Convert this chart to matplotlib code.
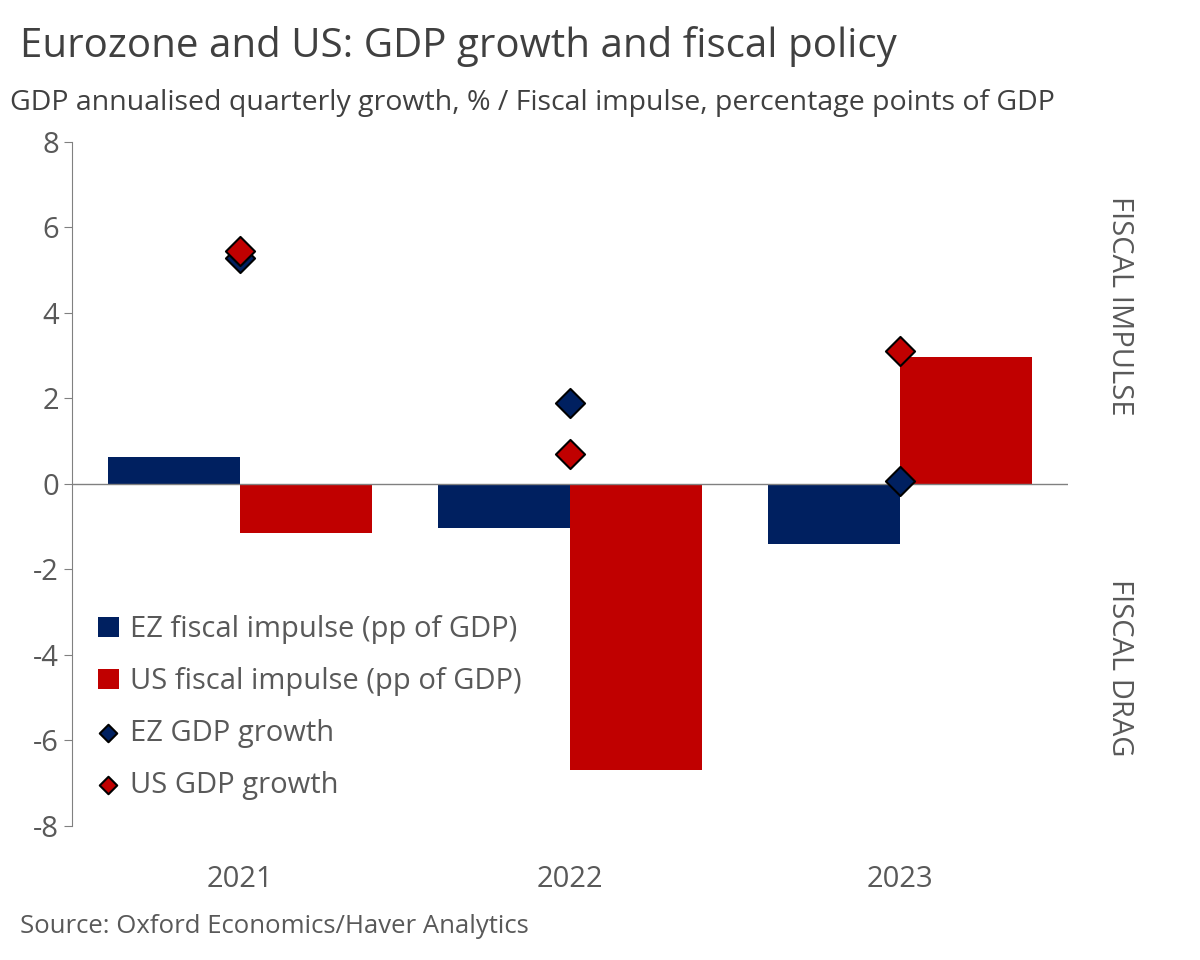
import numpy as np
import matplotlib.pyplot as plt

plt.rcParams['font.family'] = ['Open Sans', 'DejaVu Sans']
plt.rcParams['axes.unicode_minus'] = False

years = ['2021', '2022', '2023']
ez_impulse = [0.63, -1.03, -1.40]
us_impulse = [-1.15, -6.69, 2.97]
ez_gdp = [5.29, 1.89, 0.07]
us_gdp = [5.45, 0.70, 3.11]

navy = '#002060'
red = '#C00000'
grey = '#595959'

fig = plt.figure(figsize=(12, 9.6), dpi=100)
ax = fig.add_axes([0.06, 0.1396, 0.83, 0.7125])

x = np.arange(len(years))
w = 0.4
b1 = ax.bar(x - w / 2, ez_impulse, w, color=navy, label='EZ fiscal impulse (pp of GDP)')
b2 = ax.bar(x + w / 2, us_impulse, w, color=red, label='US fiscal impulse (pp of GDP)')
s1 = ax.scatter(x, ez_gdp, marker='D', s=220, color=navy, edgecolor='black', linewidth=1.5,
                zorder=3, label='EZ GDP growth')
s2 = ax.scatter(x, us_gdp, marker='D', s=220, color=red, edgecolor='black', linewidth=1.5,
                zorder=3, label='US GDP growth')

ax.set_xlim(-0.51, 2.51)
ax.set_ylim(-8, 8)
ax.set_yticks(range(-8, 9, 2))
ax.set_xticks(x)
ax.set_xticklabels(years)
ax.axhline(0, color='#808080', linewidth=1, zorder=1)
for s in ['top', 'right', 'bottom']:
    ax.spines[s].set_visible(False)
ax.spines['left'].set_color('#808080')
ax.tick_params(axis='y', colors=grey, labelsize=21, length=6, color='#808080')
ax.tick_params(axis='x', colors=grey, labelsize=21, length=0, pad=28)

leg = ax.legend([b1, b2, s1, s2], [h.get_label() for h in [b1, b2, s1, s2]],
                loc='lower left', bbox_to_anchor=(0.0, 0.0), frameon=False, fontsize=21,
                labelcolor=grey, handlelength=0.7, handletextpad=0.4, labelspacing=0.78,
                markerscale=0.6)

fig.text(0.017, 0.952, 'Eurozone and US: GDP growth and fiscal policy', fontsize=29,
         color='#404040', va='center')
fig.text(0.008, 0.893, 'GDP annualised quarterly growth, % / Fiscal impulse, percentage points of GDP',
         fontsize=20.5, color='#404040', va='center')
fig.text(0.017, 0.035, 'Source: Oxford Economics/Haver Analytics', fontsize=18.5,
         color=grey, va='center')
fig.text(0.933, 0.682, 'FISCAL IMPULSE', rotation=-90, fontsize=21, color=grey,
         ha='center', va='center')
fig.text(0.933, 0.304, 'FISCAL DRAG', rotation=-90, fontsize=21, color=grey,
         ha='center', va='center')

fig.savefig('out.png')
